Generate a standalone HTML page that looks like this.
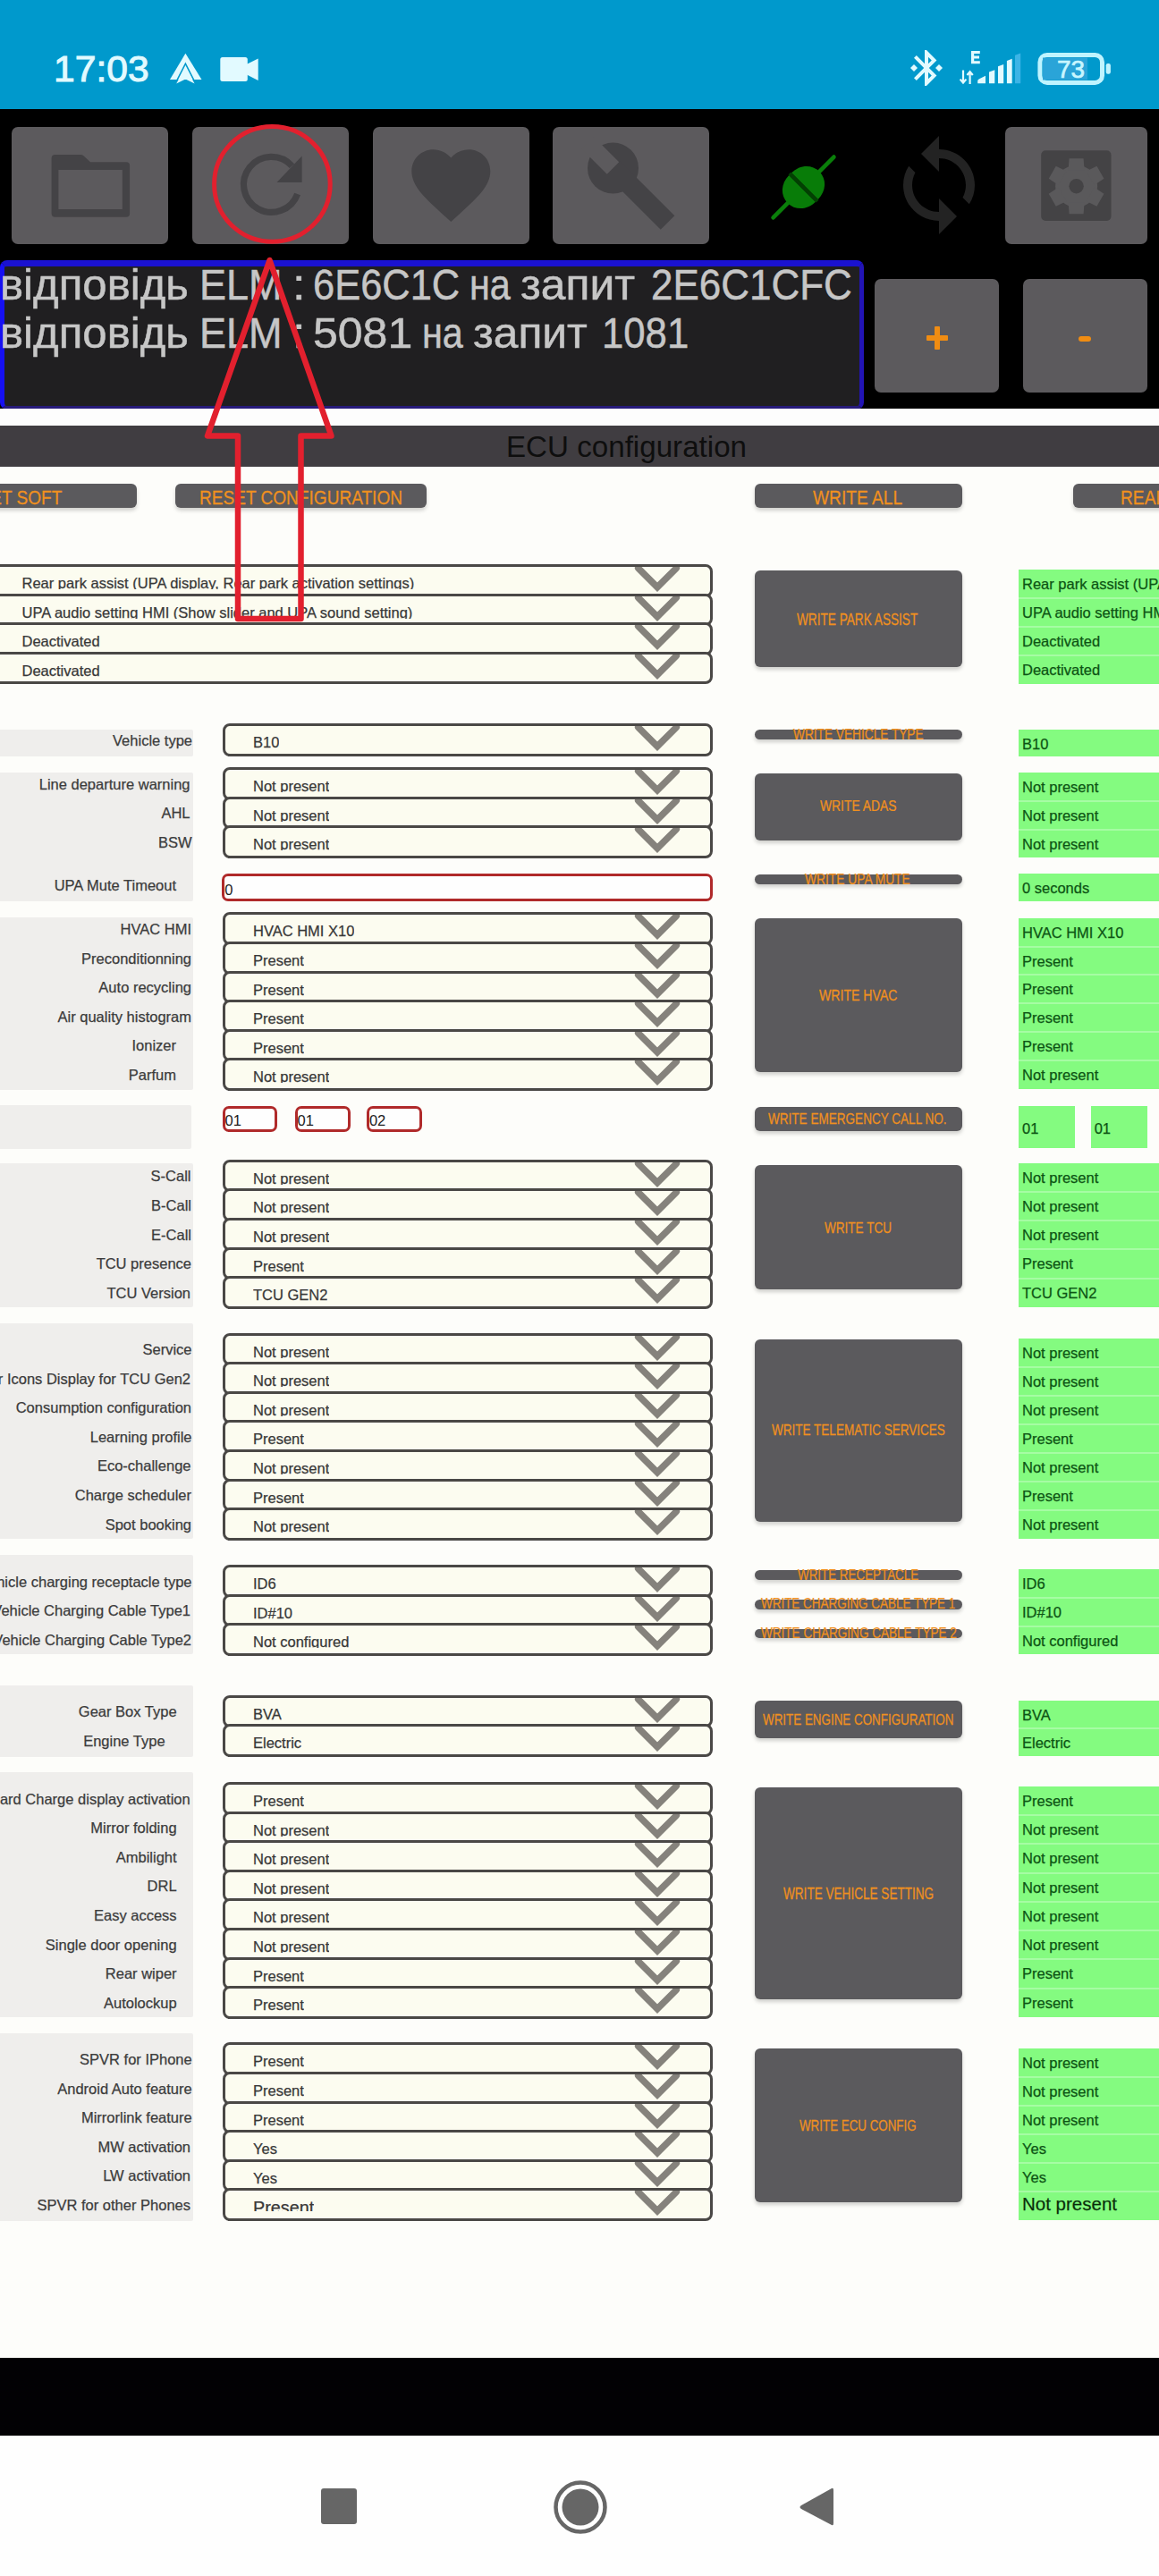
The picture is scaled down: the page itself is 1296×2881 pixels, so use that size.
<!DOCTYPE html><html><head><meta charset="utf-8"><style>
*{margin:0;padding:0;box-sizing:border-box}
html,body{width:1296px;height:2881px;overflow:hidden;background:#fdfdfa;font-family:"Liberation Sans", sans-serif}
.a{position:absolute}
#sb{left:0;top:0;width:1296px;height:122px;background:#0099cc}
#tb{left:0;top:122px;width:1296px;height:335px;background:#000}
.tbtn{position:absolute;background:#5c5a5d;border-radius:7px}
#log{left:0;top:291.4px;width:965.5px;height:167px;background:#201f21;border:5px solid #1a12d0;border-top-width:7px;border-bottom-width:4px;border-left-color:#1610f2;border-bottom-color:#271a7a;border-right-color:#2214b4;border-radius:8px;overflow:hidden}
.pm{position:absolute;background:#5c5a5d;border-radius:7px}
#wstripe{left:0;top:457px;width:1296px;height:19px;background:#fdfdfd}
#hdr{left:0;top:475.5px;width:1296px;height:46.5px;background:#403d41}
.btn{position:absolute;background:#5b5a5d;border-radius:6px;box-shadow:0 3px 4px rgba(0,0,0,0.18);color:#f0901c;font-weight:bold;text-align:center;white-space:nowrap}
.btn span{position:absolute;left:50%;top:50%;transform:translate(-50%,-50%) scaleX(0.86);display:block;white-space:nowrap}
.lbg{position:absolute;left:0;width:215.5px;background:#efeeec;border-radius:0 2px 2px 0}
.lbl{position:absolute;font-size:16.5px;color:#3c3c3c;white-space:nowrap;text-align:right;line-height:20px;-webkit-text-stroke:0.25px #3c3c3c}
.dd{position:absolute;background:#fcfcf0;border:3px solid #4a4846;border-radius:8px;overflow:hidden}
.dd .t{position:absolute;font-size:16.5px;color:#383838;white-space:nowrap;line-height:20px;overflow:hidden;-webkit-text-stroke:0.25px #383838}
.dd svg{position:absolute}
.gr{position:absolute;background:#84fb80}
.gr .t{position:absolute;left:4px;font-size:16.5px;color:#0d5414;white-space:nowrap;line-height:20px;-webkit-text-stroke:0.25px #0d5414}
.gsep{position:absolute;left:0;right:0;height:2px;background:#a6fca4}
.inp{position:absolute;background:#fefefe;border:3px solid #b02a2a;border-radius:7px}
.inp .t{position:absolute;left:1px;font-size:16px;color:#222;line-height:20px}
#blk{left:0;top:2636.5px;width:1296px;height:88px;background:#020104}
#nav{left:0;top:2724px;width:1296px;height:157px;background:#fefefe}
</style></head><body><div id="sb" class="a"></div>
<div class="a" style="left:60.31px;top:56.77px;font-size:41px;line-height:41px;font-weight:normal;color:#e2faff;white-space:nowrap;transform-origin:0 34.73px;transform:scale(1.0390,0.9784);-webkit-text-stroke:1px #e2faff;">17:03</div>
<svg class="a" style="left:0;top:0" width="300" height="110" viewBox="0 0 300 110">
<path d="M207.4 59.8 L225.5 89 L190 89 Z" fill="#e2faff"/>
<path d="M197 91.6 L207.4 71.2 L217.8 91.6" fill="none" stroke="#0099cc" stroke-width="1.6"/>
<path d="M207.4 74.5 L217.6 93.6 L207.4 88.5 L197.2 93.6 Z" fill="#e2faff"/>
<rect x="246.3" y="64" width="30.5" height="27" rx="2.5" fill="#e2faff"/>
<path d="M275 72.3 L288.7 65.5 L288.7 89.9 L275 83.1 Z" fill="#e2faff"/>
</svg>
<svg class="a" style="left:1012px;top:52.4px" width="44" height="48" viewBox="0 0 22 24">
<path d="M7 12l-2-2-2 2 2 2 2-2zm10.71-4.29L12 2h-1v7.59L6.41 5 5 6.41 10.59 12 5 17.59 6.41 19 11 14.41V22h1l5.71-5.71-4.3-4.29 4.3-4.29zM13 5.830l1.88 1.88L13 9.59V5.83zm1.88 10.46L13 18.170v-3.76l1.88 1.88zM19 10l-2 2 2 2 2-2-2-2z" fill="#e2faff"/>
</svg>
<svg class="a" style="left:1060px;top:50px" width="90" height="50" viewBox="1060 50 90 50">
<path d="M1086 57 H1095.8 V60 H1089.2 V62.6 H1095 V65.4 H1089.2 V68.3 H1095.8 V71.3 H1086 Z" fill="#e2faff"/>
<path d="M1077 78.6 V92 M1073.6 88.6 L1077 92.5 L1080.4 88.6" fill="none" stroke="#e2faff" stroke-width="2.2"/>
<path d="M1084.6 94 V80.5 M1081.4 84 L1084.6 80.2 L1087.8 84" fill="none" stroke="#e2faff" stroke-width="2.2"/>
<path d="M1093.2 93.3 L1093.2 90.5 Q1093.2 89 1095 88.2 L1102 84.8 L1102 93.3 Z" fill="#e2faff"/>
<path d="M1106 93.3 V80.5 L1112.3 78.2 V93.3 Z" fill="#e2faff"/>
<path d="M1116 93.3 V74.2 L1122.2 72 V93.3 Z" fill="#e2faff"/>
<path d="M1125.9 93.3 V68 L1131.7 65.8 V93.3 Z" fill="#e2faff"/>
<path d="M1135 93.3 V61.7 L1141.2 59.5 V93.3 Z" fill="#3cb4e6"/>
</svg>
<svg class="a" style="left:1150px;top:50px" width="100" height="50" viewBox="1150 50 100 50">
<rect x="1162.9" y="61.5" width="69.6" height="30.9" rx="8" fill="none" stroke="#bff4ff" stroke-width="5"/>
<rect x="1166" y="64.5" width="50" height="25" fill="#2aa4d8"/>
<rect x="1236.7" y="71.1" width="5.2" height="11.7" rx="2.2" fill="#bff4ff"/>
</svg>
<div class="a" style="left:1181.81px;top:64.31px;font-size:27.5px;line-height:27.5px;font-weight:normal;color:#c8f6ff;white-space:nowrap;transform-origin:0 23.29px;transform:scale(1.0125,1.0148);-webkit-text-stroke:0.7px #c8f6ff;">73</div>
<div id="tb" class="a"></div>
<div class="tbtn" style="left:13px;top:141.5px;width:175px;height:131.5px"></div>
<div class="tbtn" style="left:215px;top:141.5px;width:175px;height:131.5px"></div>
<div class="tbtn" style="left:416.5px;top:141.5px;width:175.0px;height:131.5px"></div>
<div class="tbtn" style="left:618px;top:141.5px;width:175px;height:131.5px"></div>
<div class="tbtn" style="left:1124px;top:141.5px;width:159px;height:131.5px"></div>
<svg class="a" style="left:0;top:140px" width="1296" height="135" viewBox="0 140 1296 135">
<path d="M61.6 172.9 H90 Q92 172.9 93.5 174.3 L101 181.2 H141.1 Q145.1 181.2 145.1 185.2 V238.8 Q145.1 242.8 141.1 242.8 H61.6 Q57.6 242.8 57.6 238.8 V176.9 Q57.6 172.9 61.6 172.9 Z M65.4 190 V234 H136.8 V190 Z" fill="#444346" fill-rule="evenodd"/>
<path d="M326.5 185.6 A31 31 0 1 0 332.6 216.9" fill="none" stroke="#444346" stroke-width="7.2"/><path d="M309.5 204 L337.6 204 L337.6 174.6 Z" fill="#444346"/>
<g transform="translate(451.5,154) scale(4.4)"><path d="M12 21.35l-1.45-1.32C5.4 15.36 2 12.28 2 8.5 2 5.42 4.42 3 7.5 3c1.74 0 3.41.81 4.5 2.09C13.09 3.81 14.76 3 16.5 3 19.58 3 22 5.42 22 8.5c0 3.78-3.4 6.86-8.55 11.54L12 21.35z" fill="#444346"/></g>
<g transform="translate(685.5,188) rotate(45)">
<circle r="28.5" fill="#444346"/>
<rect x="0" y="-11" width="86.3" height="22" fill="#444346"/>
<rect x="-40" y="-9.5" width="40" height="19" fill="#5c5a5d"/>
</g>
<g transform="translate(898.5,209.5) rotate(-45)">
<path d="M24 0 H48" stroke="#0a7f0a" stroke-width="4.6" stroke-linecap="round"/>
<path d="M-24 0 H-48" stroke="#0a7f0a" stroke-width="4.6" stroke-linecap="round"/>
<path d="M2 -21 C15 -21 25 -12 25 0 C25 12 15 21 2 21 Z" fill="#087c08"/>
<path d="M-2 -21 C-15 -21 -25 -12 -25 0 C-25 12 -15 21 -2 21 Z" fill="#087c08"/>
<rect x="-2" y="-22" width="4" height="44" fill="#034003"/>
</g>
<g transform="translate(990,147) scale(5)"><path d="M12 4V1L8 5l4 4V6c3.31 0 6 2.69 6 6 0 1.01-.25 1.97-.7 2.8l1.46 1.46C19.54 15.03 20 13.57 20 12c0-4.420-3.58-8-8-8zm0 14c-3.31 0-6-2.69-6-6 0-1.01.25-1.97.7-2.8L5.24 7.74C4.46 8.97 4 10.43 4 12c0 4.42 3.58 8 8 8v3l4-4-4-4v3z" fill="#232323"/></g>
<rect x="1164.2" y="168.3" width="78.3" height="78.7" rx="5" fill="#444345"/>
<g transform="translate(1203.6,208.2)" fill="#5a595b">
<circle r="23.5"/>
<path d="M-8 -31 H8 L9 -18 H-9 Z"/>
<path d="M-8 -31 H8 L9 -18 H-9 Z" transform="rotate(60)"/>
<path d="M-8 -31 H8 L9 -18 H-9 Z" transform="rotate(120)"/>
<path d="M-8 -31 H8 L9 -18 H-9 Z" transform="rotate(180)"/>
<path d="M-8 -31 H8 L9 -18 H-9 Z" transform="rotate(240)"/>
<path d="M-8 -31 H8 L9 -18 H-9 Z" transform="rotate(300)"/>
<circle r="8.2" fill="#444345"/>
</g>
</svg>
<div id="log" class="a"></div>
<div class="a" style="left:0.16px;top:294.94px;font-size:48px;line-height:48px;font-weight:normal;color:#c6c6c6;white-space:nowrap;transform-origin:0 40.66px;transform:scale(1.0237,0.9993);-webkit-text-stroke:0.5px #c6c6c6;">відповідь</div>
<div class="a" style="left:223.10px;top:294.94px;font-size:48px;line-height:48px;font-weight:normal;color:#c6c6c6;white-space:nowrap;transform-origin:0 40.66px;transform:scale(0.9378,0.9993);-webkit-text-stroke:0.5px #c6c6c6;">ELM</div>
<div class="a" style="left:326.76px;top:294.94px;font-size:48px;line-height:48px;font-weight:normal;color:#c6c6c6;white-space:nowrap;transform-origin:0 40.66px;transform:scale(1.0965,0.9993);-webkit-text-stroke:0.5px #c6c6c6;">:</div>
<div class="a" style="left:349.63px;top:294.94px;font-size:48px;line-height:48px;font-weight:normal;color:#c6c6c6;white-space:nowrap;transform-origin:0 40.66px;transform:scale(0.9049,0.9993);-webkit-text-stroke:0.5px #c6c6c6;">6E6C1C</div>
<div class="a" style="left:525.41px;top:294.94px;font-size:48px;line-height:48px;font-weight:normal;color:#c6c6c6;white-space:nowrap;transform-origin:0 40.66px;transform:scale(0.8615,0.9993);-webkit-text-stroke:0.5px #c6c6c6;">на</div>
<div class="a" style="left:582.16px;top:294.94px;font-size:48px;line-height:48px;font-weight:normal;color:#c6c6c6;white-space:nowrap;transform-origin:0 40.66px;transform:scale(1.0359,0.9993);-webkit-text-stroke:0.5px #c6c6c6;">запит</div>
<div class="a" style="left:728.40px;top:294.94px;font-size:48px;line-height:48px;font-weight:normal;color:#c6c6c6;white-space:nowrap;transform-origin:0 40.66px;transform:scale(0.9158,0.9993);-webkit-text-stroke:0.5px #c6c6c6;">2E6C1CFC</div>
<div class="a" style="left:0.16px;top:349.04px;font-size:48px;line-height:48px;font-weight:normal;color:#c6c6c6;white-space:nowrap;transform-origin:0 40.66px;transform:scale(1.0237,0.9993);-webkit-text-stroke:0.5px #c6c6c6;">відповідь</div>
<div class="a" style="left:223.10px;top:349.04px;font-size:48px;line-height:48px;font-weight:normal;color:#c6c6c6;white-space:nowrap;transform-origin:0 40.66px;transform:scale(0.9378,0.9993);-webkit-text-stroke:0.5px #c6c6c6;">ELM</div>
<div class="a" style="left:326.76px;top:349.04px;font-size:48px;line-height:48px;font-weight:normal;color:#c6c6c6;white-space:nowrap;transform-origin:0 40.66px;transform:scale(1.0965,0.9993);-webkit-text-stroke:0.5px #c6c6c6;">:</div>
<div class="a" style="left:349.80px;top:349.04px;font-size:48px;line-height:48px;font-weight:normal;color:#c6c6c6;white-space:nowrap;transform-origin:0 40.66px;transform:scale(1.0417,0.9993);-webkit-text-stroke:0.5px #c6c6c6;">5081</div>
<div class="a" style="left:471.91px;top:349.04px;font-size:48px;line-height:48px;font-weight:normal;color:#c6c6c6;white-space:nowrap;transform-origin:0 40.66px;transform:scale(0.8615,0.9993);-webkit-text-stroke:0.5px #c6c6c6;">на</div>
<div class="a" style="left:528.76px;top:349.04px;font-size:48px;line-height:48px;font-weight:normal;color:#c6c6c6;white-space:nowrap;transform-origin:0 40.66px;transform:scale(1.0351,0.9993);-webkit-text-stroke:0.5px #c6c6c6;">запит</div>
<div class="a" style="left:672.72px;top:349.04px;font-size:48px;line-height:48px;font-weight:normal;color:#c6c6c6;white-space:nowrap;transform-origin:0 40.66px;transform:scale(0.9105,0.9993);-webkit-text-stroke:0.5px #c6c6c6;">1081</div>
<div class="pm" style="left:978px;top:311.5px;width:139px;height:127px"></div>
<div class="pm" style="left:1143.5px;top:311.5px;width:139px;height:127px"></div>
<div class="a" style="left:1035.5px;top:375px;width:24px;height:6px;background:#f08c12;border-radius:1px"></div>
<div class="a" style="left:1044.5px;top:365px;width:6px;height:26px;background:#f08c12;border-radius:1px"></div>
<div class="a" style="left:1206px;top:375.5px;width:14px;height:6.5px;background:#f08c12;border-radius:3px"></div>
<div id="wstripe" class="a"></div>
<div id="hdr" class="a"></div>
<div class="a" style="left:566.35px;top:483.87px;font-size:32.5px;line-height:32.5px;font-weight:normal;color:#0e0e0e;white-space:nowrap;transform-origin:0 27.53px;transform:scale(1.0200,1.0107);">ECU configuration</div>
<div class="btn" style="left:-128px;top:541px;width:280.7px;height:27.3px"></div>
<div class="a" style="left:-50.36px;top:545.57px;font-size:22px;line-height:22px;font-weight:normal;color:#f0901e;white-space:nowrap;transform-origin:0 18.63px;transform:scale(0.8665,1.0307);-webkit-text-stroke:0.25px #f0901e;">RESET SOFT</div>
<div class="btn" style="left:195.7px;top:541px;width:281.6px;height:27.3px"></div>
<div class="a" style="left:223.47px;top:545.57px;font-size:22px;line-height:22px;font-weight:normal;color:#f0901e;white-space:nowrap;transform-origin:0 18.63px;transform:scale(0.8665,1.0307);-webkit-text-stroke:0.25px #f0901e;">RESET CONFIGURATION</div>
<div class="btn" style="left:843.6px;top:541px;width:232.0px;height:27.3px"></div>
<div class="a" style="left:908.90px;top:545.57px;font-size:22px;line-height:22px;font-weight:normal;color:#f0901e;white-space:nowrap;transform-origin:0 18.63px;transform:scale(0.8714,1.0307);-webkit-text-stroke:0.25px #f0901e;">WRITE ALL</div>
<div class="btn" style="left:1200px;top:541px;width:232.0px;height:27.3px"></div>
<div class="a" style="left:1252.97px;top:545.57px;font-size:22px;line-height:22px;font-weight:normal;color:#f0901e;white-space:nowrap;transform-origin:0 18.63px;transform:scale(0.8714,1.0307);-webkit-text-stroke:0.25px #f0901e;">READ ALL</div>
<div class="dd" style="left:-10px;top:631.0px;width:807px;height:36.5px"><div class="t" style="left:31.5px;top:8px;height:17px;font-size:16.5px">Rear park assist (UPA display, Rear park activation settings)</div><svg style="right:33px;top:0px" width="54" height="31" viewBox="0 0 54 31"><path d="M6.6 1.3 L28 22.7 L49.4 1.3" fill="none" stroke="#85827c" stroke-width="7.4" stroke-linecap="round"/></svg></div>
<div class="dd" style="left:-10px;top:663.6px;width:807px;height:36.5px"><div class="t" style="left:31.5px;top:8px;height:17px;font-size:16.5px">UPA audio setting HMI (Show slider and UPA sound setting)</div><svg style="right:33px;top:0px" width="54" height="31" viewBox="0 0 54 31"><path d="M6.6 1.3 L28 22.7 L49.4 1.3" fill="none" stroke="#85827c" stroke-width="7.4" stroke-linecap="round"/></svg></div>
<div class="dd" style="left:-10px;top:696.2px;width:807px;height:36.5px"><div class="t" style="left:31.5px;top:8px;height:17px;font-size:16.5px">Deactivated</div><svg style="right:33px;top:0px" width="54" height="31" viewBox="0 0 54 31"><path d="M6.6 1.3 L28 22.7 L49.4 1.3" fill="none" stroke="#85827c" stroke-width="7.4" stroke-linecap="round"/></svg></div>
<div class="dd" style="left:-10px;top:728.8px;width:807px;height:36.5px"><div class="t" style="left:31.5px;top:8px;height:17px;font-size:16.5px">Deactivated</div><svg style="right:33px;top:0px" width="54" height="31" viewBox="0 0 54 31"><path d="M6.6 1.3 L28 22.7 L49.4 1.3" fill="none" stroke="#85827c" stroke-width="7.4" stroke-linecap="round"/></svg></div>
<div class="gr" style="left:1139px;top:637px;width:157px;height:128.0px"><div class="t" style="top:6.0px;font-size:16.5px;">Rear park assist (UPA display, Rear park activation settings)</div><div class="t" style="top:38.0px;font-size:16.5px;">UPA audio setting HMI (Show slider and UPA sound setting)</div><div class="gsep" style="top:31.0px"></div><div class="t" style="top:70.0px;font-size:16.5px;">Deactivated</div><div class="gsep" style="top:63.0px"></div><div class="t" style="top:102.0px;font-size:16.5px;">Deactivated</div><div class="gsep" style="top:95.0px"></div></div>
<div class="btn" style="left:844.3px;top:638px;width:231.4px;height:108.0px"></div>
<div class="a" style="left:891.33px;top:685.75px;font-size:16px;line-height:16px;font-weight:normal;color:#f0901e;white-space:nowrap;transform-origin:0 13.55px;transform:scale(0.8516,1.0992);-webkit-text-stroke:0.25px #f0901e;">WRITE PARK ASSIST</div>
<div class="lbg" style="top:815.5px;height:30.100000000000023px"></div>
<div class="lbl" style="right:1081px;top:817.5px">Vehicle type</div>
<div class="dd" style="left:248.5px;top:809.0px;width:548.5px;height:36.5px"><div class="t" style="left:31.5px;top:8px;height:17px;font-size:16.5px">B10</div><svg style="right:33px;top:0px" width="54" height="31" viewBox="0 0 54 31"><path d="M6.6 1.3 L28 22.7 L49.4 1.3" fill="none" stroke="#85827c" stroke-width="7.4" stroke-linecap="round"/></svg></div>
<div class="gr" style="left:1139px;top:815.5px;width:157px;height:30.5px"><div class="t" style="top:6.0px;font-size:16.5px;">B10</div></div>
<div class="btn" style="left:844.3px;top:816.3px;width:231.4px;height:10.3px"></div>
<div class="a" style="left:886.93px;top:813.65px;font-size:16px;line-height:16px;font-weight:normal;color:#f0901e;white-space:nowrap;transform-origin:0 13.55px;transform:scale(0.8545,0.9902);-webkit-text-stroke:0.25px #f0901e;">WRITE VEHICLE TYPE</div>
<div class="lbg" style="top:864px;height:144.39999999999998px"></div>
<div class="lbl" style="right:1083.5px;top:866.5px">Line departure warning</div>
<div class="lbl" style="right:1083.5px;top:899.1px">AHL</div>
<div class="lbl" style="right:1081.5px;top:931.7px">BSW</div>
<div class="dd" style="left:248.5px;top:858.0px;width:548.5px;height:36.5px"><div class="t" style="left:31.5px;top:8px;height:17px;font-size:16.5px">Not present</div><svg style="right:33px;top:0px" width="54" height="31" viewBox="0 0 54 31"><path d="M6.6 1.3 L28 22.7 L49.4 1.3" fill="none" stroke="#85827c" stroke-width="7.4" stroke-linecap="round"/></svg></div>
<div class="dd" style="left:248.5px;top:890.6px;width:548.5px;height:36.5px"><div class="t" style="left:31.5px;top:8px;height:17px;font-size:16.5px">Not present</div><svg style="right:33px;top:0px" width="54" height="31" viewBox="0 0 54 31"><path d="M6.6 1.3 L28 22.7 L49.4 1.3" fill="none" stroke="#85827c" stroke-width="7.4" stroke-linecap="round"/></svg></div>
<div class="dd" style="left:248.5px;top:923.2px;width:548.5px;height:36.5px"><div class="t" style="left:31.5px;top:8px;height:17px;font-size:16.5px">Not present</div><svg style="right:33px;top:0px" width="54" height="31" viewBox="0 0 54 31"><path d="M6.6 1.3 L28 22.7 L49.4 1.3" fill="none" stroke="#85827c" stroke-width="7.4" stroke-linecap="round"/></svg></div>
<div class="gr" style="left:1139px;top:864px;width:157px;height:95.3px"><div class="t" style="top:6.0px;font-size:16.5px;">Not present</div><div class="t" style="top:37.8px;font-size:16.5px;">Not present</div><div class="gsep" style="top:30.8px"></div><div class="t" style="top:69.5px;font-size:16.5px;">Not present</div><div class="gsep" style="top:62.5px"></div></div>
<div class="btn" style="left:844.3px;top:864.5px;width:231.4px;height:75.5px"></div>
<div class="a" style="left:916.63px;top:893.85px;font-size:16px;line-height:16px;font-weight:normal;color:#f0901e;white-space:nowrap;transform-origin:0 13.55px;transform:scale(0.8667,0.9902);-webkit-text-stroke:0.25px #f0901e;">WRITE ADAS</div>
<div class="lbl" style="right:1099px;top:979.5px">UPA Mute Timeout</div>
<div class="inp" style="left:248.3px;top:977.3px;width:548.7px;height:30.3px"><div class="t" style="top:4.3px;left:0px;font-size:16.5px">0</div></div>
<div class="gr" style="left:1139px;top:976.9px;width:157px;height:31.3px"><div class="t" style="top:6.0px;font-size:16.5px;">0 seconds</div></div>
<div class="btn" style="left:844.3px;top:978.2px;width:231.4px;height:10.6px"></div>
<div class="a" style="left:900.43px;top:976.05px;font-size:16px;line-height:16px;font-weight:normal;color:#f0901e;white-space:nowrap;transform-origin:0 13.55px;transform:scale(0.8620,0.9902);-webkit-text-stroke:0.25px #f0901e;">WRITE UPA MUTE</div>
<div class="lbg" style="top:1025.6px;height:193.20000000000005px"></div>
<div class="lbl" style="right:1082px;top:1028.9px">HVAC HMI</div>
<div class="lbl" style="right:1082px;top:1061.5px">Preconditionning</div>
<div class="lbl" style="right:1082px;top:1094.1px">Auto recycling</div>
<div class="lbl" style="right:1082px;top:1126.7px">Air quality histogram</div>
<div class="lbl" style="right:1099px;top:1159.3px">Ionizer</div>
<div class="lbl" style="right:1099px;top:1191.9px">Parfum</div>
<div class="dd" style="left:248.5px;top:1020.4px;width:548.5px;height:36.5px"><div class="t" style="left:31.5px;top:8px;height:17px;font-size:16.5px">HVAC HMI X10</div><svg style="right:33px;top:0px" width="54" height="31" viewBox="0 0 54 31"><path d="M6.6 1.3 L28 22.7 L49.4 1.3" fill="none" stroke="#85827c" stroke-width="7.4" stroke-linecap="round"/></svg></div>
<div class="dd" style="left:248.5px;top:1053.0px;width:548.5px;height:36.5px"><div class="t" style="left:31.5px;top:8px;height:17px;font-size:16.5px">Present</div><svg style="right:33px;top:0px" width="54" height="31" viewBox="0 0 54 31"><path d="M6.6 1.3 L28 22.7 L49.4 1.3" fill="none" stroke="#85827c" stroke-width="7.4" stroke-linecap="round"/></svg></div>
<div class="dd" style="left:248.5px;top:1085.6px;width:548.5px;height:36.5px"><div class="t" style="left:31.5px;top:8px;height:17px;font-size:16.5px">Present</div><svg style="right:33px;top:0px" width="54" height="31" viewBox="0 0 54 31"><path d="M6.6 1.3 L28 22.7 L49.4 1.3" fill="none" stroke="#85827c" stroke-width="7.4" stroke-linecap="round"/></svg></div>
<div class="dd" style="left:248.5px;top:1118.2px;width:548.5px;height:36.5px"><div class="t" style="left:31.5px;top:8px;height:17px;font-size:16.5px">Present</div><svg style="right:33px;top:0px" width="54" height="31" viewBox="0 0 54 31"><path d="M6.6 1.3 L28 22.7 L49.4 1.3" fill="none" stroke="#85827c" stroke-width="7.4" stroke-linecap="round"/></svg></div>
<div class="dd" style="left:248.5px;top:1150.8px;width:548.5px;height:36.5px"><div class="t" style="left:31.5px;top:8px;height:17px;font-size:16.5px">Present</div><svg style="right:33px;top:0px" width="54" height="31" viewBox="0 0 54 31"><path d="M6.6 1.3 L28 22.7 L49.4 1.3" fill="none" stroke="#85827c" stroke-width="7.4" stroke-linecap="round"/></svg></div>
<div class="dd" style="left:248.5px;top:1183.4px;width:548.5px;height:36.5px"><div class="t" style="left:31.5px;top:8px;height:17px;font-size:16.5px">Not present</div><svg style="right:33px;top:0px" width="54" height="31" viewBox="0 0 54 31"><path d="M6.6 1.3 L28 22.7 L49.4 1.3" fill="none" stroke="#85827c" stroke-width="7.4" stroke-linecap="round"/></svg></div>
<div class="gr" style="left:1139px;top:1026.8px;width:157px;height:191.1px"><div class="t" style="top:6.0px;font-size:16.5px;">HVAC HMI X10</div><div class="t" style="top:37.9px;font-size:16.5px;">Present</div><div class="gsep" style="top:30.9px"></div><div class="t" style="top:69.7px;font-size:16.5px;">Present</div><div class="gsep" style="top:62.7px"></div><div class="t" style="top:101.6px;font-size:16.5px;">Present</div><div class="gsep" style="top:94.6px"></div><div class="t" style="top:133.4px;font-size:16.5px;">Present</div><div class="gsep" style="top:126.4px"></div><div class="t" style="top:165.3px;font-size:16.5px;">Not present</div><div class="gsep" style="top:158.3px"></div></div>
<div class="btn" style="left:844.3px;top:1027.3px;width:231.4px;height:171.5px"></div>
<div class="a" style="left:915.73px;top:1106.05px;font-size:16px;line-height:16px;font-weight:normal;color:#f0901e;white-space:nowrap;transform-origin:0 13.55px;transform:scale(0.8817,1.0447);-webkit-text-stroke:0.25px #f0901e;">WRITE HVAC</div>
<div class="lbg" style="top:1236.4px;height:48.3px;width:213.5px"></div>
<div class="inp" style="left:249px;top:1236.8px;width:61.0px;height:29.4px"><div class="t" style="top:3.7px;left:-0.5px;font-size:16.5px">01</div></div>
<div class="inp" style="left:330px;top:1236.8px;width:61.5px;height:29.4px"><div class="t" style="top:3.7px;left:-0.5px;font-size:16.5px">01</div></div>
<div class="inp" style="left:410.4px;top:1236.8px;width:62.1px;height:29.4px"><div class="t" style="top:3.7px;left:-0.5px;font-size:16.5px">02</div></div>
<div class="gr" style="left:1139px;top:1236.5px;width:63.4px;height:47.4px"><div class="t" style="top:15px">01</div></div>
<div class="gr" style="left:1219.7px;top:1236.5px;width:63.8px;height:47.4px"><div class="t" style="top:15px">01</div></div>
<div class="btn" style="left:844.3px;top:1237.6px;width:231.4px;height:27.4px"></div>
<div class="a" style="left:859.13px;top:1244.25px;font-size:16px;line-height:16px;font-weight:normal;color:#f0901e;white-space:nowrap;transform-origin:0 13.55px;transform:scale(0.8470,1.0447);-webkit-text-stroke:0.25px #f0901e;">WRITE EMERGENCY CALL NO.</div>
<div class="lbg" style="top:1301px;height:160.5999999999999px"></div>
<div class="lbl" style="right:1082.5px;top:1305.3px">S-Call</div>
<div class="lbl" style="right:1082px;top:1337.9px">B-Call</div>
<div class="lbl" style="right:1082px;top:1370.5px">E-Call</div>
<div class="lbl" style="right:1082px;top:1403.1px">TCU presence</div>
<div class="lbl" style="right:1083px;top:1435.7px">TCU Version</div>
<div class="dd" style="left:248.5px;top:1296.8px;width:548.5px;height:36.5px"><div class="t" style="left:31.5px;top:8px;height:17px;font-size:16.5px">Not present</div><svg style="right:33px;top:0px" width="54" height="31" viewBox="0 0 54 31"><path d="M6.6 1.3 L28 22.7 L49.4 1.3" fill="none" stroke="#85827c" stroke-width="7.4" stroke-linecap="round"/></svg></div>
<div class="dd" style="left:248.5px;top:1329.4px;width:548.5px;height:36.5px"><div class="t" style="left:31.5px;top:8px;height:17px;font-size:16.5px">Not present</div><svg style="right:33px;top:0px" width="54" height="31" viewBox="0 0 54 31"><path d="M6.6 1.3 L28 22.7 L49.4 1.3" fill="none" stroke="#85827c" stroke-width="7.4" stroke-linecap="round"/></svg></div>
<div class="dd" style="left:248.5px;top:1362.0px;width:548.5px;height:36.5px"><div class="t" style="left:31.5px;top:8px;height:17px;font-size:16.5px">Not present</div><svg style="right:33px;top:0px" width="54" height="31" viewBox="0 0 54 31"><path d="M6.6 1.3 L28 22.7 L49.4 1.3" fill="none" stroke="#85827c" stroke-width="7.4" stroke-linecap="round"/></svg></div>
<div class="dd" style="left:248.5px;top:1394.6px;width:548.5px;height:36.5px"><div class="t" style="left:31.5px;top:8px;height:17px;font-size:16.5px">Present</div><svg style="right:33px;top:0px" width="54" height="31" viewBox="0 0 54 31"><path d="M6.6 1.3 L28 22.7 L49.4 1.3" fill="none" stroke="#85827c" stroke-width="7.4" stroke-linecap="round"/></svg></div>
<div class="dd" style="left:248.5px;top:1427.2px;width:548.5px;height:36.5px"><div class="t" style="left:31.5px;top:8px;height:17px;font-size:16.5px">TCU GEN2</div><svg style="right:33px;top:0px" width="54" height="31" viewBox="0 0 54 31"><path d="M6.6 1.3 L28 22.7 L49.4 1.3" fill="none" stroke="#85827c" stroke-width="7.4" stroke-linecap="round"/></svg></div>
<div class="gr" style="left:1139px;top:1301.1px;width:157px;height:160.6px"><div class="t" style="top:6.0px;font-size:16.5px;">Not present</div><div class="t" style="top:38.1px;font-size:16.5px;">Not present</div><div class="gsep" style="top:31.1px"></div><div class="t" style="top:70.2px;font-size:16.5px;">Not present</div><div class="gsep" style="top:63.2px"></div><div class="t" style="top:102.4px;font-size:16.5px;">Present</div><div class="gsep" style="top:95.4px"></div><div class="t" style="top:134.5px;font-size:16.5px;">TCU GEN2</div><div class="gsep" style="top:127.5px"></div></div>
<div class="btn" style="left:844.3px;top:1303px;width:231.4px;height:139.2px"></div>
<div class="a" style="left:921.93px;top:1365.65px;font-size:16px;line-height:16px;font-weight:normal;color:#f0901e;white-space:nowrap;transform-origin:0 13.55px;transform:scale(0.8467,1.0447);-webkit-text-stroke:0.25px #f0901e;">WRITE TCU</div>
<div class="lbg" style="top:1480px;height:241px"></div>
<div class="lbl" style="right:1081.5px;top:1499.0px">Service</div>
<div class="lbl" style="right:1083px;top:1531.6px">Charger Icons Display for TCU Gen2</div>
<div class="lbl" style="right:1082px;top:1564.2px">Consumption configuration</div>
<div class="lbl" style="right:1081.5px;top:1596.8px">Learning profile</div>
<div class="lbl" style="right:1082.5px;top:1629.4px">Eco-challenge</div>
<div class="lbl" style="right:1082px;top:1662.0px">Charge scheduler</div>
<div class="lbl" style="right:1082px;top:1694.6px">Spot booking</div>
<div class="dd" style="left:248.5px;top:1490.5px;width:548.5px;height:36.5px"><div class="t" style="left:31.5px;top:8px;height:17px;font-size:16.5px">Not present</div><svg style="right:33px;top:0px" width="54" height="31" viewBox="0 0 54 31"><path d="M6.6 1.3 L28 22.7 L49.4 1.3" fill="none" stroke="#85827c" stroke-width="7.4" stroke-linecap="round"/></svg></div>
<div class="dd" style="left:248.5px;top:1523.1px;width:548.5px;height:36.5px"><div class="t" style="left:31.5px;top:8px;height:17px;font-size:16.5px">Not present</div><svg style="right:33px;top:0px" width="54" height="31" viewBox="0 0 54 31"><path d="M6.6 1.3 L28 22.7 L49.4 1.3" fill="none" stroke="#85827c" stroke-width="7.4" stroke-linecap="round"/></svg></div>
<div class="dd" style="left:248.5px;top:1555.7px;width:548.5px;height:36.5px"><div class="t" style="left:31.5px;top:8px;height:17px;font-size:16.5px">Not present</div><svg style="right:33px;top:0px" width="54" height="31" viewBox="0 0 54 31"><path d="M6.6 1.3 L28 22.7 L49.4 1.3" fill="none" stroke="#85827c" stroke-width="7.4" stroke-linecap="round"/></svg></div>
<div class="dd" style="left:248.5px;top:1588.3px;width:548.5px;height:36.5px"><div class="t" style="left:31.5px;top:8px;height:17px;font-size:16.5px">Present</div><svg style="right:33px;top:0px" width="54" height="31" viewBox="0 0 54 31"><path d="M6.6 1.3 L28 22.7 L49.4 1.3" fill="none" stroke="#85827c" stroke-width="7.4" stroke-linecap="round"/></svg></div>
<div class="dd" style="left:248.5px;top:1620.9px;width:548.5px;height:36.5px"><div class="t" style="left:31.5px;top:8px;height:17px;font-size:16.5px">Not present</div><svg style="right:33px;top:0px" width="54" height="31" viewBox="0 0 54 31"><path d="M6.6 1.3 L28 22.7 L49.4 1.3" fill="none" stroke="#85827c" stroke-width="7.4" stroke-linecap="round"/></svg></div>
<div class="dd" style="left:248.5px;top:1653.5px;width:548.5px;height:36.5px"><div class="t" style="left:31.5px;top:8px;height:17px;font-size:16.5px">Present</div><svg style="right:33px;top:0px" width="54" height="31" viewBox="0 0 54 31"><path d="M6.6 1.3 L28 22.7 L49.4 1.3" fill="none" stroke="#85827c" stroke-width="7.4" stroke-linecap="round"/></svg></div>
<div class="dd" style="left:248.5px;top:1686.1px;width:548.5px;height:36.5px"><div class="t" style="left:31.5px;top:8px;height:17px;font-size:16.5px">Not present</div><svg style="right:33px;top:0px" width="54" height="31" viewBox="0 0 54 31"><path d="M6.6 1.3 L28 22.7 L49.4 1.3" fill="none" stroke="#85827c" stroke-width="7.4" stroke-linecap="round"/></svg></div>
<div class="gr" style="left:1139px;top:1496.7px;width:157px;height:223.9px"><div class="t" style="top:6.0px;font-size:16.5px;">Not present</div><div class="t" style="top:38.0px;font-size:16.5px;">Not present</div><div class="gsep" style="top:31.0px"></div><div class="t" style="top:70.0px;font-size:16.5px;">Not present</div><div class="gsep" style="top:63.0px"></div><div class="t" style="top:102.0px;font-size:16.5px;">Present</div><div class="gsep" style="top:95.0px"></div><div class="t" style="top:133.9px;font-size:16.5px;">Not present</div><div class="gsep" style="top:126.9px"></div><div class="t" style="top:165.9px;font-size:16.5px;">Present</div><div class="gsep" style="top:158.9px"></div><div class="t" style="top:197.9px;font-size:16.5px;">Not present</div><div class="gsep" style="top:190.9px"></div></div>
<div class="btn" style="left:844.3px;top:1497.5px;width:231.4px;height:204.1px"></div>
<div class="a" style="left:863.23px;top:1592.35px;font-size:16px;line-height:16px;font-weight:normal;color:#f0901e;white-space:nowrap;transform-origin:0 13.55px;transform:scale(0.8453,1.0447);-webkit-text-stroke:0.25px #f0901e;">WRITE TELEMATIC SERVICES</div>
<div class="lbg" style="top:1739.4px;height:110.89999999999986px"></div>
<div class="lbl" style="right:1081.5px;top:1758.5px">Vehicle charging receptacle type</div>
<div class="lbl" style="right:1083px;top:1791.1px">Vehicle Charging Cable Type1</div>
<div class="lbl" style="right:1082px;top:1823.7px">Vehicle Charging Cable Type2</div>
<div class="dd" style="left:248.5px;top:1750.0px;width:548.5px;height:36.5px"><div class="t" style="left:31.5px;top:8px;height:17px;font-size:16.5px">ID6</div><svg style="right:33px;top:0px" width="54" height="31" viewBox="0 0 54 31"><path d="M6.6 1.3 L28 22.7 L49.4 1.3" fill="none" stroke="#85827c" stroke-width="7.4" stroke-linecap="round"/></svg></div>
<div class="dd" style="left:248.5px;top:1782.6px;width:548.5px;height:36.5px"><div class="t" style="left:31.5px;top:8px;height:17px;font-size:16.5px">ID#10</div><svg style="right:33px;top:0px" width="54" height="31" viewBox="0 0 54 31"><path d="M6.6 1.3 L28 22.7 L49.4 1.3" fill="none" stroke="#85827c" stroke-width="7.4" stroke-linecap="round"/></svg></div>
<div class="dd" style="left:248.5px;top:1815.2px;width:548.5px;height:36.5px"><div class="t" style="left:31.5px;top:8px;height:17px;font-size:16.5px">Not configured</div><svg style="right:33px;top:0px" width="54" height="31" viewBox="0 0 54 31"><path d="M6.6 1.3 L28 22.7 L49.4 1.3" fill="none" stroke="#85827c" stroke-width="7.4" stroke-linecap="round"/></svg></div>
<div class="gr" style="left:1139px;top:1755px;width:157px;height:95.2px"><div class="t" style="top:6.0px;font-size:16.5px;">ID6</div><div class="t" style="top:37.7px;font-size:16.5px;">ID#10</div><div class="gsep" style="top:30.7px"></div><div class="t" style="top:69.5px;font-size:16.5px;">Not configured</div><div class="gsep" style="top:62.5px"></div></div>
<div class="btn" style="left:844.3px;top:1756.4px;width:231.4px;height:10.3px"></div>
<div class="a" style="left:892.43px;top:1753.75px;font-size:16px;line-height:16px;font-weight:normal;color:#f0901e;white-space:nowrap;transform-origin:0 13.55px;transform:scale(0.8369,0.9902);-webkit-text-stroke:0.25px #f0901e;">WRITE RECEPTACLE</div>
<div class="btn" style="left:844.3px;top:1789px;width:231.4px;height:10.9px"></div>
<div class="a" style="left:850.73px;top:1786.45px;font-size:16px;line-height:16px;font-weight:normal;color:#f0901e;white-space:nowrap;transform-origin:0 13.55px;transform:scale(0.8408,0.9902);-webkit-text-stroke:0.25px #f0901e;">WRITE CHARGING CABLE TYPE 1</div>
<div class="btn" style="left:844.3px;top:1821.6px;width:231.4px;height:10.9px"></div>
<div class="a" style="left:850.73px;top:1818.95px;font-size:16px;line-height:16px;font-weight:normal;color:#f0901e;white-space:nowrap;transform-origin:0 13.55px;transform:scale(0.8469,0.9902);-webkit-text-stroke:0.25px #f0901e;">WRITE CHARGING CABLE TYPE 2</div>
<div class="lbg" style="top:1885px;height:80px"></div>
<div class="lbl" style="right:1098.4px;top:1904.1px">Gear Box Type</div>
<div class="lbl" style="right:1111.4px;top:1936.7px">Engine Type</div>
<div class="dd" style="left:248.5px;top:1895.6px;width:548.5px;height:36.5px"><div class="t" style="left:31.5px;top:8px;height:17px;font-size:16.5px">BVA</div><svg style="right:33px;top:0px" width="54" height="31" viewBox="0 0 54 31"><path d="M6.6 1.3 L28 22.7 L49.4 1.3" fill="none" stroke="#85827c" stroke-width="7.4" stroke-linecap="round"/></svg></div>
<div class="dd" style="left:248.5px;top:1928.2px;width:548.5px;height:36.5px"><div class="t" style="left:31.5px;top:8px;height:17px;font-size:16.5px">Electric</div><svg style="right:33px;top:0px" width="54" height="31" viewBox="0 0 54 31"><path d="M6.6 1.3 L28 22.7 L49.4 1.3" fill="none" stroke="#85827c" stroke-width="7.4" stroke-linecap="round"/></svg></div>
<div class="gr" style="left:1139px;top:1901.6px;width:157px;height:62.2px"><div class="t" style="top:6.0px;font-size:16.5px;">BVA</div><div class="t" style="top:37.1px;font-size:16.5px;">Electric</div><div class="gsep" style="top:30.1px"></div></div>
<div class="btn" style="left:844.3px;top:1902.4px;width:231.4px;height:42.0px"></div>
<div class="a" style="left:852.93px;top:1915.85px;font-size:16px;line-height:16px;font-weight:normal;color:#f0901e;white-space:nowrap;transform-origin:0 13.55px;transform:scale(0.8373,1.0356);-webkit-text-stroke:0.25px #f0901e;">WRITE ENGINE CONFIGURATION</div>
<div class="lbg" style="top:1982px;height:274px"></div>
<div class="lbl" style="right:1083.3px;top:2001.5px">Dashboard Charge display activation</div>
<div class="lbl" style="right:1098.4px;top:2034.1px">Mirror folding</div>
<div class="lbl" style="right:1098.4px;top:2066.7px">Ambilight</div>
<div class="lbl" style="right:1098.4px;top:2099.3px">DRL</div>
<div class="lbl" style="right:1098.4px;top:2131.9px">Easy access</div>
<div class="lbl" style="right:1098.4px;top:2164.5px">Single door opening</div>
<div class="lbl" style="right:1098.4px;top:2197.1px">Rear wiper</div>
<div class="lbl" style="right:1098.4px;top:2229.7px">Autolockup</div>
<div class="dd" style="left:248.5px;top:1993.0px;width:548.5px;height:36.5px"><div class="t" style="left:31.5px;top:8px;height:17px;font-size:16.5px">Present</div><svg style="right:33px;top:0px" width="54" height="31" viewBox="0 0 54 31"><path d="M6.6 1.3 L28 22.7 L49.4 1.3" fill="none" stroke="#85827c" stroke-width="7.4" stroke-linecap="round"/></svg></div>
<div class="dd" style="left:248.5px;top:2025.6px;width:548.5px;height:36.5px"><div class="t" style="left:31.5px;top:8px;height:17px;font-size:16.5px">Not present</div><svg style="right:33px;top:0px" width="54" height="31" viewBox="0 0 54 31"><path d="M6.6 1.3 L28 22.7 L49.4 1.3" fill="none" stroke="#85827c" stroke-width="7.4" stroke-linecap="round"/></svg></div>
<div class="dd" style="left:248.5px;top:2058.2px;width:548.5px;height:36.5px"><div class="t" style="left:31.5px;top:8px;height:17px;font-size:16.5px">Not present</div><svg style="right:33px;top:0px" width="54" height="31" viewBox="0 0 54 31"><path d="M6.6 1.3 L28 22.7 L49.4 1.3" fill="none" stroke="#85827c" stroke-width="7.4" stroke-linecap="round"/></svg></div>
<div class="dd" style="left:248.5px;top:2090.8px;width:548.5px;height:36.5px"><div class="t" style="left:31.5px;top:8px;height:17px;font-size:16.5px">Not present</div><svg style="right:33px;top:0px" width="54" height="31" viewBox="0 0 54 31"><path d="M6.6 1.3 L28 22.7 L49.4 1.3" fill="none" stroke="#85827c" stroke-width="7.4" stroke-linecap="round"/></svg></div>
<div class="dd" style="left:248.5px;top:2123.4px;width:548.5px;height:36.5px"><div class="t" style="left:31.5px;top:8px;height:17px;font-size:16.5px">Not present</div><svg style="right:33px;top:0px" width="54" height="31" viewBox="0 0 54 31"><path d="M6.6 1.3 L28 22.7 L49.4 1.3" fill="none" stroke="#85827c" stroke-width="7.4" stroke-linecap="round"/></svg></div>
<div class="dd" style="left:248.5px;top:2156.0px;width:548.5px;height:36.5px"><div class="t" style="left:31.5px;top:8px;height:17px;font-size:16.5px">Not present</div><svg style="right:33px;top:0px" width="54" height="31" viewBox="0 0 54 31"><path d="M6.6 1.3 L28 22.7 L49.4 1.3" fill="none" stroke="#85827c" stroke-width="7.4" stroke-linecap="round"/></svg></div>
<div class="dd" style="left:248.5px;top:2188.6px;width:548.5px;height:36.5px"><div class="t" style="left:31.5px;top:8px;height:17px;font-size:16.5px">Present</div><svg style="right:33px;top:0px" width="54" height="31" viewBox="0 0 54 31"><path d="M6.6 1.3 L28 22.7 L49.4 1.3" fill="none" stroke="#85827c" stroke-width="7.4" stroke-linecap="round"/></svg></div>
<div class="dd" style="left:248.5px;top:2221.2px;width:548.5px;height:36.5px"><div class="t" style="left:31.5px;top:8px;height:17px;font-size:16.5px">Present</div><svg style="right:33px;top:0px" width="54" height="31" viewBox="0 0 54 31"><path d="M6.6 1.3 L28 22.7 L49.4 1.3" fill="none" stroke="#85827c" stroke-width="7.4" stroke-linecap="round"/></svg></div>
<div class="gr" style="left:1139px;top:1997.8px;width:157px;height:258.3px"><div class="t" style="top:6.0px;font-size:16.5px;">Present</div><div class="t" style="top:38.3px;font-size:16.5px;">Not present</div><div class="gsep" style="top:31.3px"></div><div class="t" style="top:70.6px;font-size:16.5px;">Not present</div><div class="gsep" style="top:63.6px"></div><div class="t" style="top:102.9px;font-size:16.5px;">Not present</div><div class="gsep" style="top:95.9px"></div><div class="t" style="top:135.1px;font-size:16.5px;">Not present</div><div class="gsep" style="top:128.1px"></div><div class="t" style="top:167.4px;font-size:16.5px;">Not present</div><div class="gsep" style="top:160.4px"></div><div class="t" style="top:199.7px;font-size:16.5px;">Present</div><div class="gsep" style="top:192.7px"></div><div class="t" style="top:232.0px;font-size:16.5px;">Present</div><div class="gsep" style="top:225.0px"></div></div>
<div class="btn" style="left:844.3px;top:1999.3px;width:231.4px;height:237.0px"></div>
<div class="a" style="left:876.23px;top:2110.95px;font-size:16px;line-height:16px;font-weight:normal;color:#f0901e;white-space:nowrap;transform-origin:0 13.55px;transform:scale(0.8481,1.0901);-webkit-text-stroke:0.25px #f0901e;">WRITE VEHICLE SETTING</div>
<div class="lbg" style="top:2273.6px;height:210.0999999999999px"></div>
<div class="lbl" style="right:1081.3px;top:2292.9px">SPVR for IPhone</div>
<div class="lbl" style="right:1081.3px;top:2325.5px">Android Auto feature</div>
<div class="lbl" style="right:1081.3px;top:2358.1px">Mirrorlink feature</div>
<div class="lbl" style="right:1083px;top:2390.7px">MW activation</div>
<div class="lbl" style="right:1083px;top:2423.3px">LW activation</div>
<div class="lbl" style="right:1083px;top:2455.9px">SPVR for other Phones</div>
<div class="dd" style="left:248.5px;top:2284.4px;width:548.5px;height:36.5px"><div class="t" style="left:31.5px;top:8px;height:17px;font-size:16.5px">Present</div><svg style="right:33px;top:0px" width="54" height="31" viewBox="0 0 54 31"><path d="M6.6 1.3 L28 22.7 L49.4 1.3" fill="none" stroke="#85827c" stroke-width="7.4" stroke-linecap="round"/></svg></div>
<div class="dd" style="left:248.5px;top:2317.0px;width:548.5px;height:36.5px"><div class="t" style="left:31.5px;top:8px;height:17px;font-size:16.5px">Present</div><svg style="right:33px;top:0px" width="54" height="31" viewBox="0 0 54 31"><path d="M6.6 1.3 L28 22.7 L49.4 1.3" fill="none" stroke="#85827c" stroke-width="7.4" stroke-linecap="round"/></svg></div>
<div class="dd" style="left:248.5px;top:2349.6px;width:548.5px;height:36.5px"><div class="t" style="left:31.5px;top:8px;height:17px;font-size:16.5px">Present</div><svg style="right:33px;top:0px" width="54" height="31" viewBox="0 0 54 31"><path d="M6.6 1.3 L28 22.7 L49.4 1.3" fill="none" stroke="#85827c" stroke-width="7.4" stroke-linecap="round"/></svg></div>
<div class="dd" style="left:248.5px;top:2382.2px;width:548.5px;height:36.5px"><div class="t" style="left:31.5px;top:8px;height:17px;font-size:16.5px">Yes</div><svg style="right:33px;top:0px" width="54" height="31" viewBox="0 0 54 31"><path d="M6.6 1.3 L28 22.7 L49.4 1.3" fill="none" stroke="#85827c" stroke-width="7.4" stroke-linecap="round"/></svg></div>
<div class="dd" style="left:248.5px;top:2414.8px;width:548.5px;height:36.5px"><div class="t" style="left:31.5px;top:8px;height:17px;font-size:16.5px">Yes</div><svg style="right:33px;top:0px" width="54" height="31" viewBox="0 0 54 31"><path d="M6.6 1.3 L28 22.7 L49.4 1.3" fill="none" stroke="#85827c" stroke-width="7.4" stroke-linecap="round"/></svg></div>
<div class="dd" style="left:248.5px;top:2447.4px;width:548.5px;height:36.5px"><div class="t" style="left:31.5px;top:8.7px;height:13.9px;font-size:19.8px">Present</div><svg style="right:33px;top:0px" width="54" height="31" viewBox="0 0 54 31"><path d="M6.6 1.3 L28 22.7 L49.4 1.3" fill="none" stroke="#85827c" stroke-width="7.4" stroke-linecap="round"/></svg></div>
<div class="gr" style="left:1139px;top:2290.9px;width:157px;height:191.7px"><div class="t" style="top:6.0px;font-size:16.5px;">Not present</div><div class="t" style="top:37.9px;font-size:16.5px;">Not present</div><div class="gsep" style="top:30.9px"></div><div class="t" style="top:69.9px;font-size:16.5px;">Not present</div><div class="gsep" style="top:62.9px"></div><div class="t" style="top:101.8px;font-size:16.5px;">Yes</div><div class="gsep" style="top:94.8px"></div><div class="t" style="top:133.8px;font-size:16.5px;">Yes</div><div class="gsep" style="top:126.8px"></div><div class="t" style="top:164.0px;font-size:20.5px;color:#0a2a0a">Not present</div><div class="gsep" style="top:158.7px"></div></div>
<div class="btn" style="left:844.3px;top:2291.3px;width:231.4px;height:171.7px"></div>
<div class="a" style="left:894.23px;top:2370.35px;font-size:16px;line-height:16px;font-weight:normal;color:#f0901e;white-space:nowrap;transform-origin:0 13.55px;transform:scale(0.8351,1.0810);-webkit-text-stroke:0.25px #f0901e;">WRITE ECU CONFIG</div>
<svg class="a" style="left:0;top:0" width="1296" height="720" viewBox="0 0 1296 720">
<ellipse cx="304.4" cy="205.9" rx="64.8" ry="64.4" fill="none" stroke="#e2202e" stroke-width="5"/>
<path d="M301.5 291 L232 487.5 L266 487.5 L266 692 L336.5 692 L336.5 487.5 L370.5 487.5 Z" fill="none" stroke="#e2202e" stroke-width="6.5" stroke-linejoin="round"/>
</svg>
<div id="blk" class="a"></div>
<div id="nav" class="a"></div>
<div class="a" style="left:359px;top:2783px;width:39.5px;height:39.5px;background:#666;border-radius:3px"></div>
<svg class="a" style="left:616px;top:2771px" width="66" height="66" viewBox="0 0 66 66">
<circle cx="33" cy="33" r="27.5" fill="none" stroke="#666" stroke-width="4.5"/>
<circle cx="33" cy="33" r="20.5" fill="#666"/>
</svg>
<svg class="a" style="left:890px;top:2779px" width="46" height="50" viewBox="0 0 46 50">
<path d="M40 4 Q42 3 42 6 L42 43 Q42 46 40 45 L6 27 Q3 25 6 23 Z" fill="#666"/>
</svg></body></html>
